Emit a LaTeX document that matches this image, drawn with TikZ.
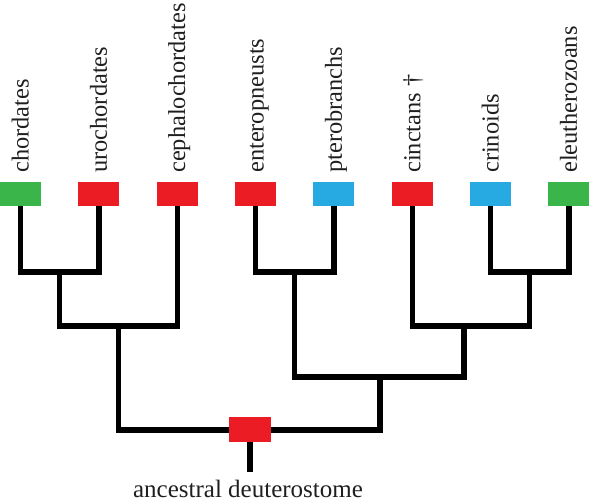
\documentclass[tikz,border=0pt]{standalone}
\usepackage{fontspec}
\setmainfont{Liberation Serif}
\usetikzlibrary{positioning,backgrounds,calc}

\definecolor{cladegreen}{HTML}{3AB54A}
\definecolor{cladered}{HTML}{EC1C24}
\definecolor{cladeblue}{HTML}{27AAE1}

\begin{document}
\begin{tikzpicture}[
    x=1bp, y=1bp,
    leaf/.style={
        rectangle,
        inner sep=0pt,
        outer sep=0pt,
        minimum width=41bp,
        minimum height=24bp
    },
    taxon/.style={
        rotate=90,
        anchor=base west,
        inner sep=0pt,
        text=black!88,
        font=\fontsize{24.4bp}{28bp}\selectfont
    },
    branch/.style={draw, line width=5.3bp, line join=miter, line cap=rect}
]
\useasboundingbox (0,0) rectangle (590,504);

% Living (and fossil) groups
\node [leaf, fill=cladegreen] (chordates) at (20.5,310) {};
\node [leaf, fill=cladered, right=37.35bp of chordates] (urochordates) {};
\node [leaf, fill=cladered, right=37.35bp of urochordates] (cephalochordates) {};
\node [leaf, fill=cladered, right=37.35bp of cephalochordates] (enteropneusts) {};
\node [leaf, fill=cladeblue, right=37.35bp of enteropneusts] (pterobranchs) {};
\node [leaf, fill=cladered, right=37.35bp of pterobranchs] (cinctans) {};
\node [leaf, fill=cladeblue, right=37.35bp of cinctans] (crinoids) {};
\node [leaf, fill=cladegreen, right=37.35bp of crinoids] (eleutherozoans) {};

% Names
\foreach \t/\name in {chordates/chordates, urochordates/urochordates,
    cephalochordates/cephalochordates, enteropneusts/enteropneusts,
    pterobranchs/pterobranchs, cinctans/{cinctans \textdagger},
    crinoids/crinoids, eleutherozoans/eleutherozoans}
    \node [taxon] (\t-name) at ($(\t.north)+(8,9)$) {\name};

% Common ancestor
\node [leaf, fill=cladered, minimum width=42bp, minimum height=25bp] (root) at (250,74) {};
\coordinate (rootend) at (250,35);
\node [anchor=base, inner sep=0pt, text=black!88,
    font=\fontsize{25bp}{29bp}\selectfont] (rootname) at (248,6) {ancestral deuterostome};

% Branching points
\coordinate (n1) at (59.6,232);
\coordinate (n2) at (118.5,178);
\coordinate (n3) at (294.7,232);
\coordinate (n4) at (529.7,232);
\coordinate (n5) at (464,178);
\coordinate (n6) at (380,127);

\begin{scope}[on background layer]
\draw [branch] (chordates.south) |- (n1) -| (urochordates.south);
\draw [branch] (n1) |- (n2) -| (cephalochordates.south);
\draw [branch] (enteropneusts.south) |- (n3) -| (pterobranchs.south);
\draw [branch] (crinoids.south) |- (n4) -| (eleutherozoans.south);
\draw [branch] (cinctans.south) |- (n5) -| (n4);
\draw [branch] (n3) |- (n6) -| (n5);
\draw [branch] (n2) |- (root.center) -| (n6);
\draw [branch] (root.center) -- (rootend);
\end{scope}

\end{tikzpicture}
\end{document}
